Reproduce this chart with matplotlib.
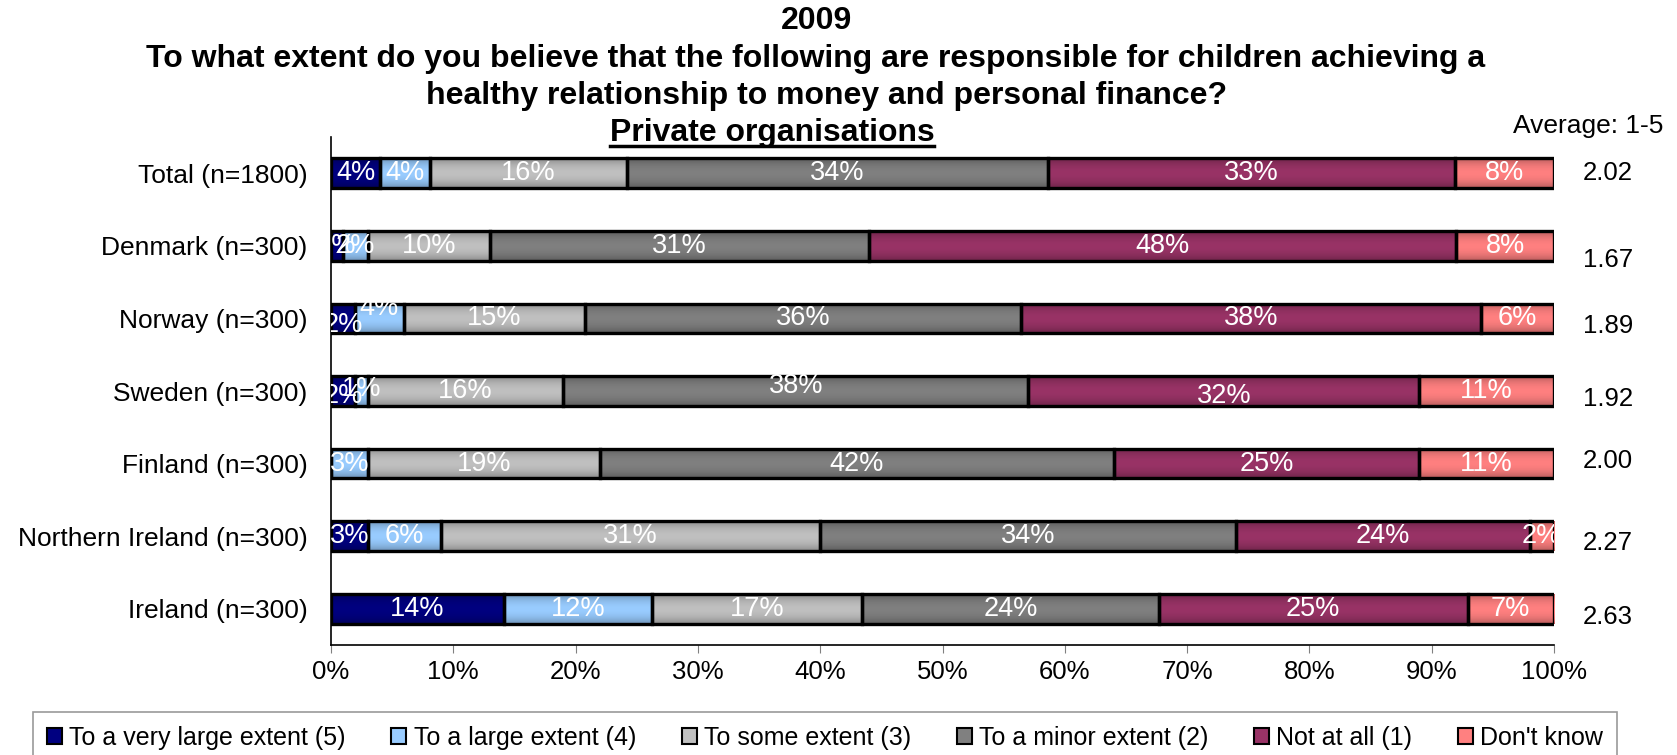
import numpy as np
import matplotlib
matplotlib.use('Agg')
import matplotlib.pyplot as plt
from matplotlib import transforms
from matplotlib.patches import Patch
from matplotlib.lines import Line2D
from matplotlib.colors import to_rgb

plt.rcParams['font.family'] = ['Liberation Sans', 'DejaVu Sans']
NARROW = ['Liberation Sans Narrow', 'Liberation Sans', 'DejaVu Sans']

categories = ['Total (n=1800)', 'Denmark (n=300)', 'Norway (n=300)',
              'Sweden (n=300)', 'Finland (n=300)', 'Northern Ireland (n=300)',
              'Ireland (n=300)']
very_large = [4, 1, 2, 2, 0, 3, 14]
large = [4, 2, 4, 1, 3, 6, 12]
some = [16, 10, 15, 16, 19, 31, 17]
minor = [34, 31, 36, 38, 42, 34, 24]
not_at_all = [33, 48, 38, 32, 25, 24, 25]
dont_know = [8, 8, 6, 11, 11, 2, 7]
averages = [2.02, 1.67, 1.89, 1.92, 2.00, 2.27, 2.63]

series_names = ['To a very large extent (5)', 'To a large extent (4)',
                'To some extent (3)', 'To a minor extent (2)',
                'Not at all (1)', "Don't know"]
colors = ['#000080', '#99CCFF', '#C0C0C0', '#808080', '#993366', '#FF8080']

values = np.array([very_large, large, some, minor, not_at_all, dont_know], dtype=float)
shares = values / values.sum(axis=0) * 100  # 100% stacked

# small vertical nudges for crowded labels (row, series) -> data units
label_nudge = {(2, 0): 0.09, (2, 1): -0.14, (3, 0): 0.07, (3, 1): -0.03,
               (3, 3): -0.07, (3, 4): 0.07}
avg_nudge = [0.0, 0.19, 0.11, 0.11, -0.03, 0.10, 0.11]

fig = plt.figure(figsize=(16.77, 7.55), dpi=100)
ax = fig.add_axes([331 / 1677, 110 / 755, 1223 / 1677, 508 / 755])

y = np.arange(len(categories))
bar_h = 0.41
left = np.zeros(len(categories))

# vertical shading profile: darker at top and bottom edges
t = np.linspace(0, 1, 64)
shade = 1.0 - 0.28 * np.abs(2 * t - 1) ** 2

for k, (name, col) in enumerate(zip(series_names, colors)):
    w = shares[k]
    bars = ax.barh(y, w, left=left, height=bar_h, color=col, edgecolor='none', zorder=2)
    rgb = np.array(to_rgb(col))
    grad = np.clip(shade[:, None, None] * rgb[None, None, :], 0, 1)
    for b in bars:
        if b.get_width() <= 0:
            continue
        x0, y0 = b.get_x(), b.get_y()
        im = ax.imshow(grad, extent=[x0, x0 + b.get_width(), y0 + bar_h, y0],
                       aspect='auto', zorder=2.5, interpolation='bilinear')
        im.set_clip_path(b)
    ax.barh(y, w, left=left, height=bar_h, fill=False, edgecolor='black',
            linewidth=2.4, zorder=3)
    for i in range(len(categories)):
        v = values[k, i]
        if v <= 0:
            continue
        ax.text(left[i] + w[i] / 2, y[i] + label_nudge.get((i, k), 0.0),
                f'{int(v)}%', ha='center', va='center', color='white',
                fontsize=19.5, zorder=4, clip_on=True)
    left += w

ax.set_xlim(0, 100)
ax.set_ylim(len(categories) - 0.5, -0.5)
ax.set_yticks(y)
ax.set_yticklabels(categories, fontsize=19)
ax.set_xticks(np.arange(0, 101, 10))
ax.set_xticklabels([f'{v}%' for v in range(0, 101, 10)], fontsize=18.5)
ax.tick_params(axis='y', length=0, pad=17)
ax.tick_params(axis='x', length=6, color='#808080', pad=5)
for s in ['top', 'right']:
    ax.spines[s].set_visible(False)
for s in ['left', 'bottom']:
    ax.spines[s].set_linewidth(1.2)

# average score column
tr = transforms.blended_transform_factory(ax.transAxes, ax.transData)
for i, a in enumerate(averages):
    ax.text(1.044, y[i] + avg_nudge[i], f'{a:.2f}', transform=tr, ha='center',
            va='center', fontsize=18.5, clip_on=False)
fig.text(1588 / 1677, 1 - 126 / 755, 'Average: 1-5', ha='center', va='center',
         fontsize=19, family=NARROW)

# title block
title_lines = [('2009', 817, 21),
               ('To what extent do you believe that the following are responsible for children achieving a', 816, 59),
               ('healthy relationship to money and personal finance?', 827, 96),
               ('Private organisations', 772, 133)]
title_texts = []
for txt, cx, cy in title_lines:
    title_texts.append(fig.text(cx / 1677, 1 - cy / 755, txt, ha='center', va='center',
                                fontsize=23, fontweight='bold', family=NARROW))

# legend
handles = [Patch(facecolor=c, edgecolor='black', linewidth=1.5) for c in colors]
leg = fig.legend(handles, series_names, loc='center', ncol=6,
                 bbox_to_anchor=(825 / 1677, 1 - 738 / 755),
                 prop={'family': NARROW, 'size': 18}, frameon=True, fancybox=False,
                 handlelength=0.6, handleheight=0.6, handletextpad=0.3,
                 columnspacing=1.82, borderpad=0.55)
leg.get_frame().set_edgecolor('#808080')
leg.get_frame().set_linewidth(1.2)

# underline the last title line
fig.canvas.draw()
renderer = fig.canvas.get_renderer()
bb = title_texts[-1].get_window_extent(renderer)
uy = bb.y0 + 2
fig.add_artist(Line2D([bb.x0, bb.x1], [uy, uy], transform=None, color='black', linewidth=2.5))

fig.savefig('out.png', dpi=100)
